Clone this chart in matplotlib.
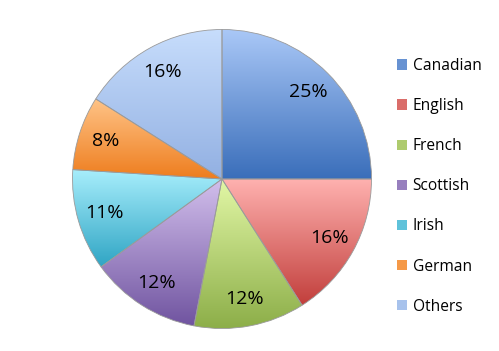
import numpy as np
import matplotlib.pyplot as plt
from matplotlib.colors import LinearSegmentedColormap, to_rgb
from matplotlib.patches import Patch

plt.rcParams['font.family'] = ['Open Sans', 'DejaVu Sans']

# data
labels = ['Canadian', 'English', 'French', 'Scottish', 'Irish', 'German', 'Others']
shares = [25, 16, 12, 12, 11, 8, 16]
# (top colour, bottom colour) for each slice gradient
top_colors = ['#aac8f7', '#ffb2b0', '#e2f7a6', '#d2bfec', '#a8eefc', '#ffc488', '#c7ddfc']
bottom_colors = ['#3a6eba', '#c23f3c', '#8cae48', '#7054a0', '#2fa5c4', '#ee7d1e', '#92b0e2']

fig = plt.figure(figsize=(4.99, 3.51), dpi=100)
R = 151
ax = fig.add_axes([(222 - R) / 499, (351 - 179 - R) / 351, 2 * R / 499, 2 * R / 351])

wedges, texts, autotexts = ax.pie(
    shares, startangle=90, counterclock=False, radius=1,
    autopct='%d%%', pctdistance=0.82,
    wedgeprops=dict(edgecolor='#9a9a9a', linewidth=0.6),
    textprops=dict(fontsize=14, color='black'))

grad = np.linspace(1, 0, 256).reshape(-1, 1)
for w, c1, c2 in zip(wedges, top_colors, bottom_colors):
    cmap = LinearSegmentedColormap.from_list('g', [c2, c1])
    th = np.radians(np.linspace(w.theta1, w.theta2, 100))
    xs = np.concatenate([[0], np.cos(th)])
    ys = np.concatenate([[0], np.sin(th)])
    im = ax.imshow(grad, cmap=cmap, aspect='auto', origin='upper',
                   extent=(xs.min(), xs.max(), ys.min(), ys.max()), zorder=0.5)
    im.set_clip_path(w)
    w.set_facecolor('none')
    w.set_zorder(1)

ax.set_xlim(-1.01, 1.01)
ax.set_ylim(-1.01, 1.01)
ax.set_aspect('equal')
ax.axis('off')

mid_colors = [0.4 * np.array(to_rgb(a)) + 0.6 * np.array(to_rgb(b))
              for a, b in zip(top_colors, bottom_colors)]
handles = [Patch(facecolor=c, edgecolor='none') for c in mid_colors]
fig.legend(handles, labels, loc='upper left', bbox_to_anchor=(383 / 499, 1 - 44 / 351),
           frameon=False, fontsize=11.2, labelspacing=1.55, handlelength=0.65,
           handleheight=0.65, handletextpad=0.35)

fig.savefig('out.png', dpi=100)
